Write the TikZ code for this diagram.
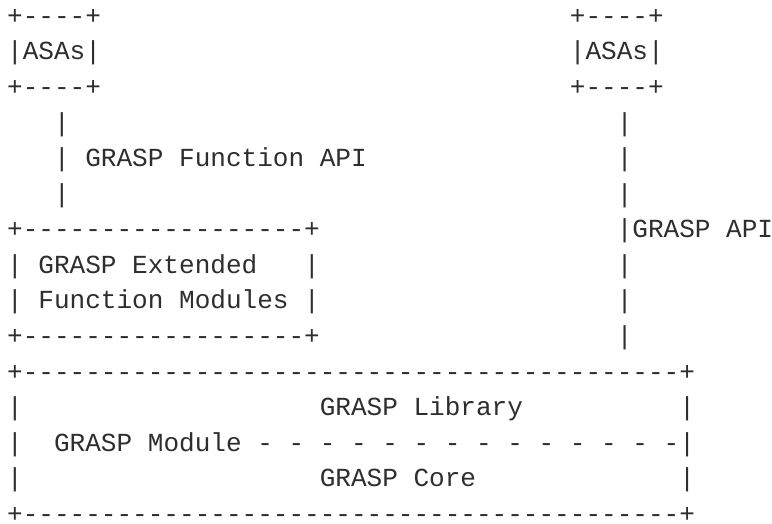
\documentclass[tikz,border=0pt]{standalone}
\usepackage{fontspec}
\setmonofont{Liberation Mono}
\definecolor{ink}{HTML}{2E2E2E}
\tikzset{
  t/.style={anchor=base west, inner sep=0pt, outer sep=0pt, text=ink,
            font=\ttfamily\fontsize{26.05pt}{30pt}\selectfont},
  flat/.style={text depth=0pt}
}
\begin{document}
\begin{tikzpicture}[x=1pt,y=1pt]
\useasboundingbox[fill=white] (0,0) rectangle (772,523);
% row 1-3: ASAs boxes
\node[t] (l1a) at (7.2,498.6) {+----+};
\node[t] (l1b) at (569.88,498.6) {+----+};
\node[t] (l2a) at (7.2,463.03) {|ASAs|};
\node[t] (l2b) at (569.88,463.03) {|ASAs|};
\node[t] (l3a) at (7.2,427.46) {+----+};
\node[t] (l3b) at (569.88,427.46) {+----+};
% rows 4-6
\node[t] (l4a) at (54.09,391.89) {|};
\node[t] (l4b) at (616.77,391.89) {|};
\node[t] (l5a) at (54.09,356.32) {|};
\node[t] (l5t) at (85.35,356.32) {GRASP Function API};
\node[t] (l5b) at (616.77,356.32) {|};
\node[t] (l6a) at (54.09,320.75) {|};
\node[t] (l6b) at (616.77,320.75) {|};
% rows 7-10: extended function modules
\node[t] (l7a) at (7.2,285.18) {+------------------+};
\node[t] (l7b) at (616.77,285.18) {|GRASP API};
\node[t] (l8a) at (7.2,249.61) {|};
\node[t] (l8t) at (38.46,249.61) {GRASP Extended};
\node[t] (l8c) at (304.17,249.61) {|};
\node[t] (l8b) at (616.77,249.61) {|};
\node[t] (l9a) at (7.2,214.04) {|};
\node[t] (l9t) at (38.46,214.04) {Function Modules};
\node[t] (l9c) at (304.17,214.04) {|};
\node[t] (l9b) at (616.77,214.04) {|};
\node[t] (l10a) at (7.2,178.47) {+------------------+};
\node[t] (l10b) at (616.77,178.47) {|};
% rows 11-15: GRASP module
\node[t] (l11) at (7.2,142.9) {+------------------------------------------+};
\node[t] (l12a) at (7.2,107.33) {|};
\node[t] (l12t) at (319.8,107.33) {GRASP Library};
\node[t] (l12b) at (679.29,107.33) {|};
\node[t] (l13a) at (7.2,71.76) {|};
\node[t] (l13t) at (54.09,71.76) {GRASP Module};
\node[t] (l13d) at (257.28,71.76) {- - - - - - - - - - - - - -};
\node[t] (l13b) at (679.29,71.76) {|};
\node[t] (l14a) at (7.2,36.19) {|};
\node[t] (l14t) at (319.8,36.19) {GRASP Core};
\node[t] (l14b) at (679.29,36.19) {|};
\node[t,flat] (l15) at (7.2,0.62) {+------------------------------------------+};
\end{tikzpicture}
\end{document}
